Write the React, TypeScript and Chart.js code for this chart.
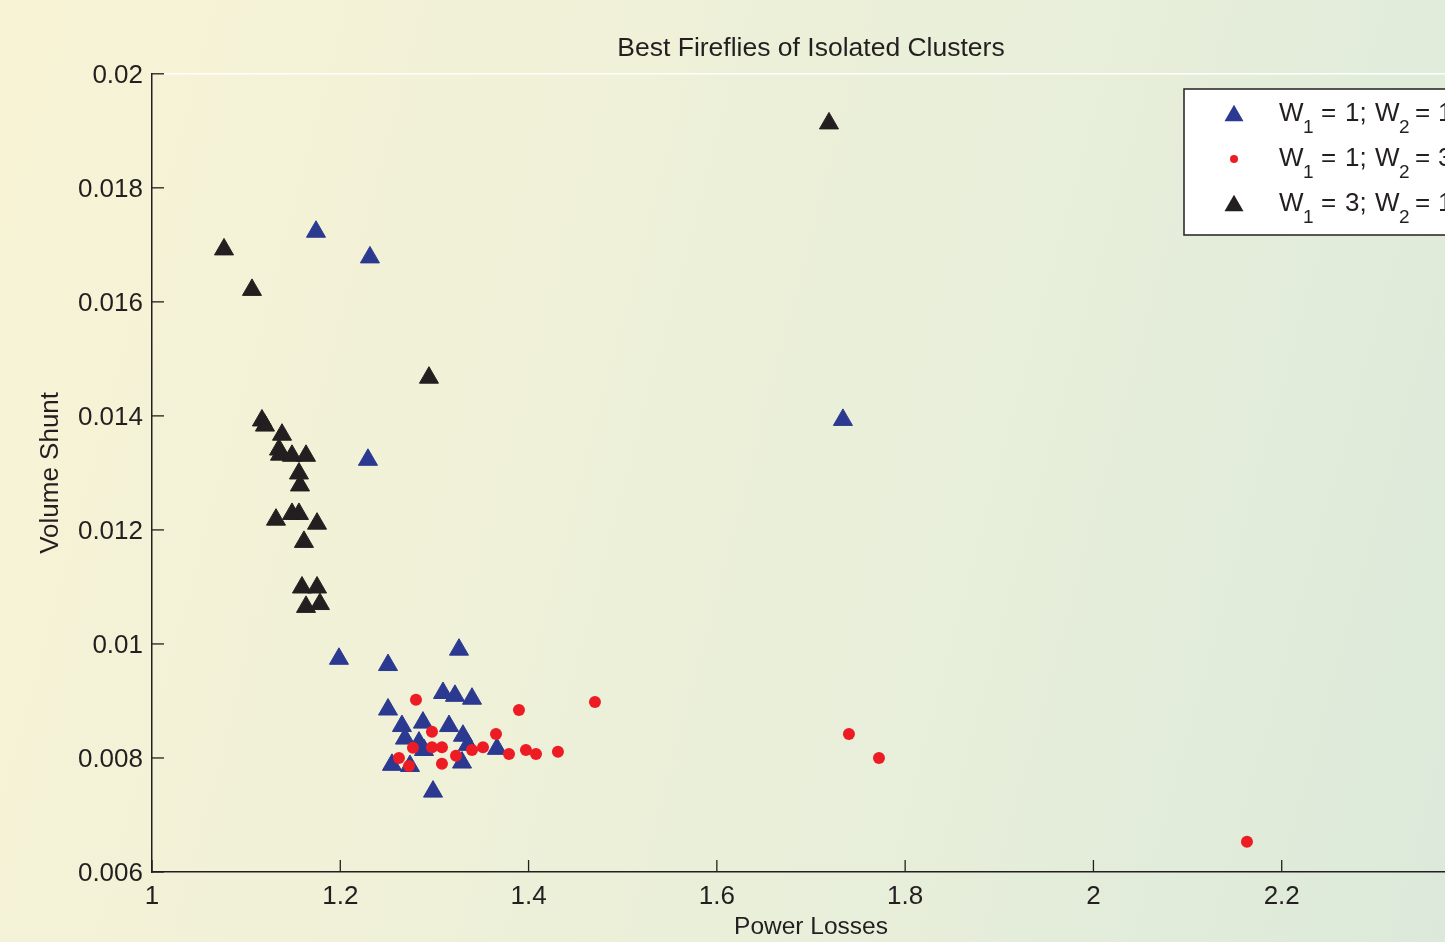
import React, { useEffect, useRef } from "react";
import { Chart, registerables } from "chart.js";

Chart.register(...registerables);

const FONT = "'Liberation Sans', Arial, Helvetica, sans-serif";
const INK = "#231f20";

const chartTitle = "Best Fireflies of Isolated Clusters";
const xAxisTitle = "Power Losses";
const yAxisTitle = "Volume Shunt";

const xTickValues = [1, 1.2, 1.4, 1.6, 1.8, 2, 2.2, 2.4];
const xTickLabels = ["1", "1.2", "1.4", "1.6", "1.8", "2", "2.2", "2.4"];
const yTickValues = [0.006, 0.008, 0.01, 0.012, 0.014, 0.016, 0.018, 0.02];
const yTickLabels = ["0.006", "0.008", "0.01", "0.012", "0.014", "0.016", "0.018", "0.02"];

// Series 1: W1 = 1; W2 = 1 (blue triangles)
const blueLosses = [1.1742, 1.2315, 1.2294, 1.7339, 1.1986, 1.2507, 1.3261, 1.3091, 1.3218, 1.3399, 1.2507, 1.2655, 1.2878, 1.3155, 1.2687, 1.2836, 1.3303, 1.3356, 1.2889, 1.3664, 1.2549, 1.274, 1.3293, 1.2985];
const blueShunt = [0.01723, 0.01678, 0.01323, 0.01393, 0.00974, 0.00963, 0.0099, 0.00914, 0.00909, 0.00904, 0.00885, 0.00856, 0.00862, 0.00856, 0.00834, 0.00827, 0.00839, 0.00823, 0.00814, 0.00816, 0.00788, 0.00786, 0.00792, 0.00741];

// Series 2: W1 = 1; W2 = 3 (red dots)
const redLosses = [1.2804, 1.3898, 1.4705, 1.2974, 1.3654, 1.2772, 1.2974, 1.308, 1.3399, 1.3516, 1.3792, 1.3972, 1.4079, 1.4312, 1.2623, 1.273, 1.308, 1.3229, 1.7403, 1.7722, 2.1631];
const redShunt = [0.00902, 0.00884, 0.00898, 0.00846, 0.00842, 0.00818, 0.00819, 0.00819, 0.00814, 0.00819, 0.00807, 0.00814, 0.00807, 0.00811, 0.008, 0.00786, 0.0079, 0.00804, 0.00842, 0.008, 0.00653];

// Series 3: W1 = 3; W2 = 1 (black triangles)
const blackLosses = [1.0765, 1.1062, 1.1168, 1.12, 1.1381, 1.1349, 1.136, 1.1487, 1.1636, 1.1561, 1.1572, 1.1317, 1.1487, 1.1561, 1.1753, 1.1614, 1.1593, 1.1753, 1.1636, 1.1784, 1.2942, 1.7191];
const blackShunt = [0.01692, 0.01621, 0.01392, 0.01383, 0.01367, 0.01341, 0.01332, 0.0133, 0.0133, 0.01299, 0.01278, 0.01218, 0.01228, 0.01228, 0.01211, 0.01179, 0.01099, 0.01099, 0.01065, 0.0107, 0.01467, 0.01913];

const legendW1 = ["1", "1", "3"];
const legendW2 = ["1", "3", "1"];
const seriesColors = ["#2b3990", "#ed1c24", INK];
const seriesStyles = ["triangle", "circle", "triangle"];

const toPoints = (xs: number[], ys: number[]) => xs.map((x, i) => ({ x, y: ys[i] }));

const axisDecor = {
  id: "axisDecor",
  beforeDatasetsDraw(chart: any) {
    const { ctx, chartArea, scales } = chart;
    ctx.save();
    ctx.strokeStyle = "#ffffff";
    ctx.lineWidth = 1.5;
    ctx.beginPath();
    ctx.moveTo(chartArea.left + 12, chartArea.top);
    ctx.lineTo(chartArea.right, chartArea.top);
    ctx.stroke();
    ctx.strokeStyle = INK;
    ctx.lineWidth = 1.3;
    const tl = 12;
    yTickValues.forEach((v) => {
      const py = scales.y.getPixelForValue(v);
      ctx.beginPath();
      ctx.moveTo(chartArea.left, py);
      ctx.lineTo(chartArea.left + tl, py);
      ctx.stroke();
    });
    xTickValues.forEach((v) => {
      const px = scales.x.getPixelForValue(v);
      ctx.beginPath();
      ctx.moveTo(px, chartArea.bottom);
      ctx.lineTo(px, chartArea.bottom - tl);
      ctx.stroke();
    });
    ctx.restore();
  },
};

const customLegend = {
  id: "customLegend",
  afterDraw(chart: any) {
    const { ctx } = chart;
    const left = 1184;
    const top = 89;
    const width = 280;
    const height = 146;
    ctx.save();
    ctx.fillStyle = "#ffffff";
    ctx.fillRect(left, top, width, height);
    ctx.strokeStyle = INK;
    ctx.lineWidth = 1.5;
    ctx.strokeRect(left, top, width, height);

    const markerX = 1234;
    const textX = 1279;
    const baselines = [121, 166, 211];
    baselines.forEach((base, i) => {
      const cy = base - 7;
      ctx.fillStyle = seriesColors[i];
      if (seriesStyles[i] === "triangle") {
        const r = 11;
        ctx.beginPath();
        ctx.moveTo(markerX, cy - r * 0.75 - 1);
        ctx.lineTo(markerX + r * 0.866, cy + r * 0.75 - 1);
        ctx.lineTo(markerX - r * 0.866, cy + r * 0.75 - 1);
        ctx.closePath();
        ctx.fill();
      } else {
        ctx.beginPath();
        ctx.arc(markerX, cy, 4, 0, Math.PI * 2);
        ctx.fill();
      }
      ctx.fillStyle = INK;
      ctx.textBaseline = "alphabetic";
      ctx.textAlign = "left";
      const big = `26px ${FONT}`;
      const small = `19px ${FONT}`;
      ctx.font = big;
      ctx.fillText("W", textX, base);
      ctx.font = small;
      ctx.fillText("1", textX + 24, base + 12);
      ctx.font = big;
      ctx.fillText("=", textX + 42, base);
      ctx.fillText(legendW1[i] + ";", textX + 66, base);
      ctx.fillText("W", textX + 96, base);
      ctx.font = small;
      ctx.fillText("2", textX + 120, base + 12);
      ctx.font = big;
      ctx.fillText("=", textX + 136, base);
      ctx.fillText(legendW2[i], textX + 159, base);
    });
    ctx.restore();
  },
};

export default function App() {
  const canvasRef = useRef<HTMLCanvasElement | null>(null);

  useEffect(() => {
    if (!canvasRef.current) return;
    const chart = new Chart(canvasRef.current, {
      type: "scatter",
      data: {
        datasets: [
          {
            label: "W1 = 1; W2 = 1",
            data: toPoints(blueLosses, blueShunt),
            pointStyle: "triangle",
            pointRadius: 11,
            pointHoverRadius: 11,
            backgroundColor: seriesColors[0],
            borderColor: seriesColors[0],
            borderWidth: 1,
            order: 1,
          },
          {
            label: "W1 = 1; W2 = 3",
            data: toPoints(redLosses, redShunt),
            pointStyle: "circle",
            pointRadius: 6,
            pointHoverRadius: 6,
            backgroundColor: seriesColors[1],
            borderColor: seriesColors[1],
            borderWidth: 0,
            order: 0,
          },
          {
            label: "W1 = 3; W2 = 1",
            data: toPoints(blackLosses, blackShunt),
            pointStyle: "triangle",
            pointRadius: 11,
            pointHoverRadius: 11,
            backgroundColor: seriesColors[2],
            borderColor: seriesColors[2],
            borderWidth: 1,
            order: 2,
          },
        ],
      },
      options: {
        responsive: false,
        animation: false,
        devicePixelRatio: 1,
        layout: { padding: { left: 0, right: 30, top: 0, bottom: 0 } },
        plugins: {
          legend: { display: false },
          tooltip: { enabled: false },
          title: {
            display: true,
            text: chartTitle,
            fullSize: false,
            color: INK,
            font: { family: FONT, size: 26.5, weight: "normal" },
            padding: { top: 33, bottom: 9 },
          },
        },
        scales: {
          x: {
            type: "linear",
            position: "bottom",
            min: 1,
            max: 2.4,
            grid: { display: false, drawTicks: false },
            border: { display: true, color: INK, width: 1.5 },
            afterBuildTicks: (scale: any) => {
              scale.ticks = xTickValues.map((v) => ({ value: v }));
            },
            afterFit: (scale: any) => {
              scale.height = 70;
            },
            ticks: {
              autoSkip: false,
              maxRotation: 0,
              padding: 9,
              color: INK,
              font: { family: FONT, size: 26 },
              callback: (_v: any, i: number) => xTickLabels[i],
            },
            title: {
              display: true,
              text: xAxisTitle,
              color: INK,
              font: { family: FONT, size: 24.5 },
              padding: { top: 0, bottom: 0 },
            },
          },
          y: {
            type: "linear",
            min: 0.006,
            max: 0.02,
            grid: { display: false, drawTicks: false },
            border: { display: true, color: INK, width: 1.5 },
            afterBuildTicks: (scale: any) => {
              scale.ticks = yTickValues.map((v) => ({ value: v }));
            },
            afterFit: (scale: any) => {
              scale.width = 152;
            },
            ticks: {
              autoSkip: false,
              padding: 9,
              labelOffset: 2,
              color: INK,
              font: { family: FONT, size: 26 },
              callback: (_v: any, i: number) => yTickLabels[i],
            },
            title: {
              display: true,
              text: yAxisTitle,
              color: INK,
              font: { family: FONT, size: 26 },
              padding: { top: 35, bottom: 0 },
            },
          },
        },
      },
      plugins: [axisDecor, customLegend],
    } as any);
    return () => chart.destroy();
  }, []);

  return (
    <div
      style={{
        position: "fixed",
        left: 0,
        top: 0,
        width: "100vw",
        height: "100vh",
        overflow: "hidden",
        background:
          "linear-gradient(105deg, #f8f3d5 0%, #f0f1d8 35%, #e6eeda 70%, #dce9da 100%)",
      }}
    >
      <canvas
        ref={canvasRef}
        width={1500}
        height={942}
        style={{ display: "block", width: 1500, height: 942 }}
      />
    </div>
  );
}
